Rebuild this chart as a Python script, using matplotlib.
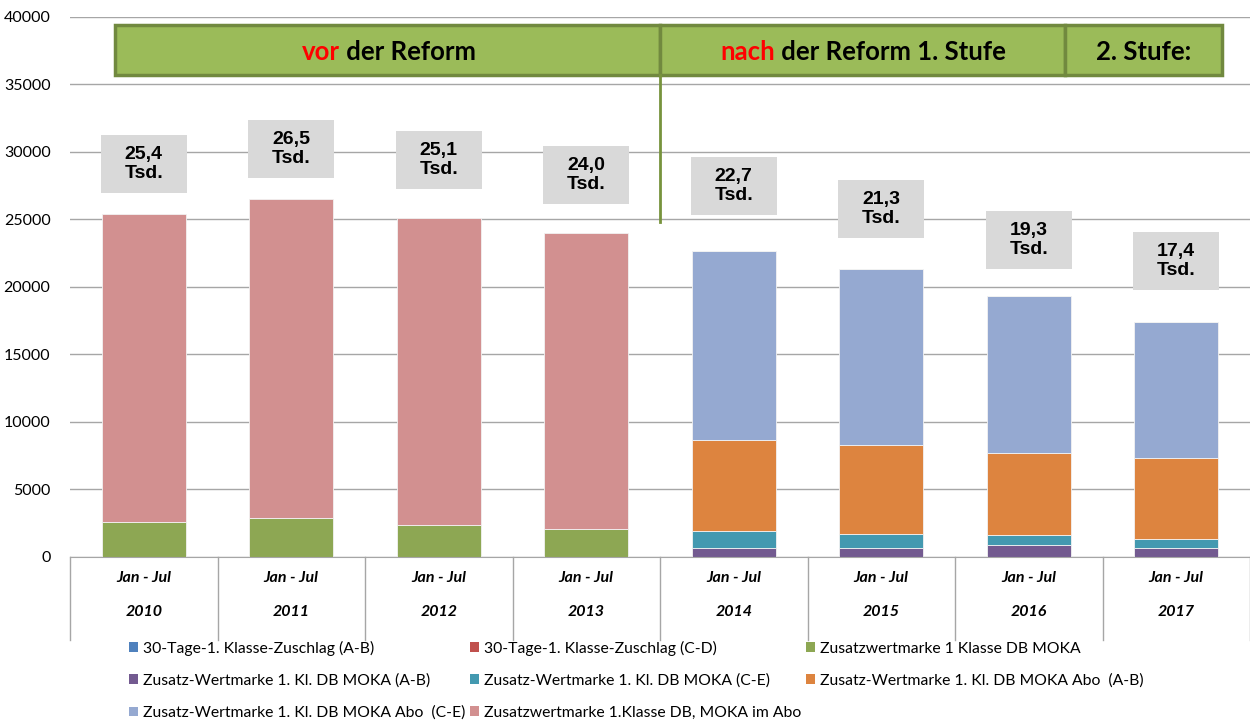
import matplotlib.pyplot as plt
from matplotlib.patches import Rectangle, Patch
import matplotlib.transforms as mtransforms
import numpy as np

# data
years = ['2010', '2011', '2012', '2013', '2014', '2015', '2016', '2017']
period = 'Jan - Jul'
totals = [25400, 26500, 25100, 24000, 22700, 21300, 19300, 17400]
total_labels = ['25,4', '26,5', '25,1', '24,0', '22,7', '21,3', '19,3', '17,4']

zuschlag_ab = [0, 0, 0, 0, 0, 0, 0, 0]
zuschlag_cd = [0, 0, 0, 0, 0, 0, 0, 0]
wm_moka = [2600, 2900, 2400, 2100, 0, 0, 0, 0]
wm_moka_ab = [0, 0, 0, 0, 690, 700, 870, 690]
wm_moka_ce = [0, 0, 0, 0, 1210, 980, 780, 620]
wm_abo_ab = [0, 0, 0, 0, 6800, 6620, 6050, 5990]
wm_abo_ce = [0, 0, 0, 0, 14000, 13000, 11600, 10100]
wm_moka_abo = [22800, 23600, 22700, 21900, 0, 0, 0, 0]

series = [
    ('30-Tage-1. Klasse-Zuschlag (A-B)', zuschlag_ab, '#4F81BD'),
    ('30-Tage-1. Klasse-Zuschlag (C-D)', zuschlag_cd, '#C0504D'),
    ('Zusatzwertmarke 1 Klasse DB MOKA', wm_moka, '#8DA753'),
    ('Zusatz-Wertmarke 1. Kl. DB MOKA (A-B)', wm_moka_ab, '#735A90'),
    ('Zusatz-Wertmarke 1. Kl. DB MOKA (C-E)', wm_moka_ce, '#4399B0'),
    ('Zusatz-Wertmarke 1. Kl. DB MOKA Abo  (A-B)', wm_abo_ab, '#DD843F'),
    ('Zusatz-Wertmarke 1. Kl. DB MOKA Abo  (C-E)', wm_abo_ce, '#95A9D1'),
    ('Zusatzwertmarke 1.Klasse DB, MOKA im Abo', wm_moka_abo, '#D29090'),
]

fig = plt.figure(figsize=(12.5, 7.2), dpi=100)
ax = fig.add_axes([0.056, 0.2264, 0.944, 0.75])

x = np.arange(len(years))
bottom = np.zeros(len(years))
handles = []
for name, vals, col in series:
    ax.bar(x, vals, 0.57, bottom=bottom, color=col, edgecolor='#F2F2F2',
           linewidth=0.6, zorder=2)
    bottom += np.array(vals)
    handles.append(Patch(facecolor=col, edgecolor='none', label=name))

ax.set_xlim(-0.5, len(years) - 0.5)
ax.set_ylim(0, 40000)
ax.set_yticks(np.arange(0, 40001, 5000))
ax.yaxis.grid(True, color='#A6A6A6', linewidth=1, zorder=0)
ax.set_axisbelow(True)
for s in ['top', 'right', 'left']:
    ax.spines[s].set_visible(False)
ax.spines['bottom'].set_color('#A6A6A6')
ax.tick_params(axis='y', length=0, pad=14, labelsize=11.5)
for lab in ax.get_yticklabels():
    lab.set_fontfamily('Lato')
ax.set_xticks([])

# category table below the axis
trans = mtransforms.blended_transform_factory(ax.transData, ax.transAxes)
for b in np.arange(-0.5, len(years), 1.0):
    ax.plot([b, b], [0, -0.154], transform=trans, color='#A6A6A6',
            linewidth=1, clip_on=False)
for i, yr in enumerate(years):
    ax.text(i, -0.039, period, transform=trans, ha='center', va='center',
            fontsize=11.5, fontweight='bold', fontstyle='italic', family='Lato')
    ax.text(i, -0.102, yr, transform=trans, ha='center', va='center',
            fontsize=11.5, fontweight='bold', fontstyle='italic', family='Lato')

# total labels in grey boxes
box_off = [3700, 3700, 4300, 4300, 4800, 4500, 4200, 4500]
for i, (t, lab) in enumerate(zip(totals, total_labels)):
    yc = t + box_off[i]
    ax.add_patch(Rectangle((i - 0.29, yc - 2150), 0.58, 4300,
                           facecolor='#D9D9D9', edgecolor='none', zorder=3))
    ax.text(i, yc, lab + '\nTsd.', ha='center', va='center', fontsize=14,
            fontweight='bold', family='Liberation Sans', linespacing=1.15,
            zorder=4)

# reform banners
for x0, x1 in [(-0.195, 3.5), (3.5, 6.246), (6.246, 7.31)]:
    ax.add_patch(Rectangle((x0, 35700), x1 - x0, 3700, facecolor='#9BBB59',
                           edgecolor='#71893F', linewidth=2.5, zorder=3,
                           clip_on=False))
ax.plot([3.5, 3.5], [24800, 35700], color='#77933C', linewidth=2, zorder=3)

fs_b = 18.5
bkw = dict(fontsize=fs_b, fontweight='bold', family='Lato', va='center', zorder=5)
t1 = ax.text(1.073, 37400, 'vor', color='#FF0000', ha='left', **bkw)
ax.annotate(' der Reform', xy=(1, 0), xycoords=t1, ha='left', va='bottom',
            color='black', fontsize=fs_b, fontweight='bold', family='Lato', zorder=5)
t2 = ax.text(3.907, 37400, 'nach', color='#FF0000', ha='left', **bkw)
ax.annotate(' der Reform 1. Stufe', xy=(1, 0), xycoords=t2, ha='left', va='bottom',
            color='black', fontsize=fs_b, fontweight='bold', family='Lato', zorder=5)
ax.text(6.78, 37400, '2. Stufe:', color='black', ha='center', **bkw)

# legend (column-major order so it reads row by row)
order = [0, 3, 6, 1, 4, 7, 2, 5]
fig.legend([handles[k] for k in order], [series[k][0] for k in order],
           loc='upper left', bbox_to_anchor=(0.103, 0.110), ncol=3,
           frameon=False, prop={'family': 'Lato', 'size': 11.3},
           handlelength=0.6, handleheight=0.6, handletextpad=0.3,
           columnspacing=0.3, labelspacing=1.13, borderaxespad=0, borderpad=0)

fig.savefig('out.png', dpi=100)
